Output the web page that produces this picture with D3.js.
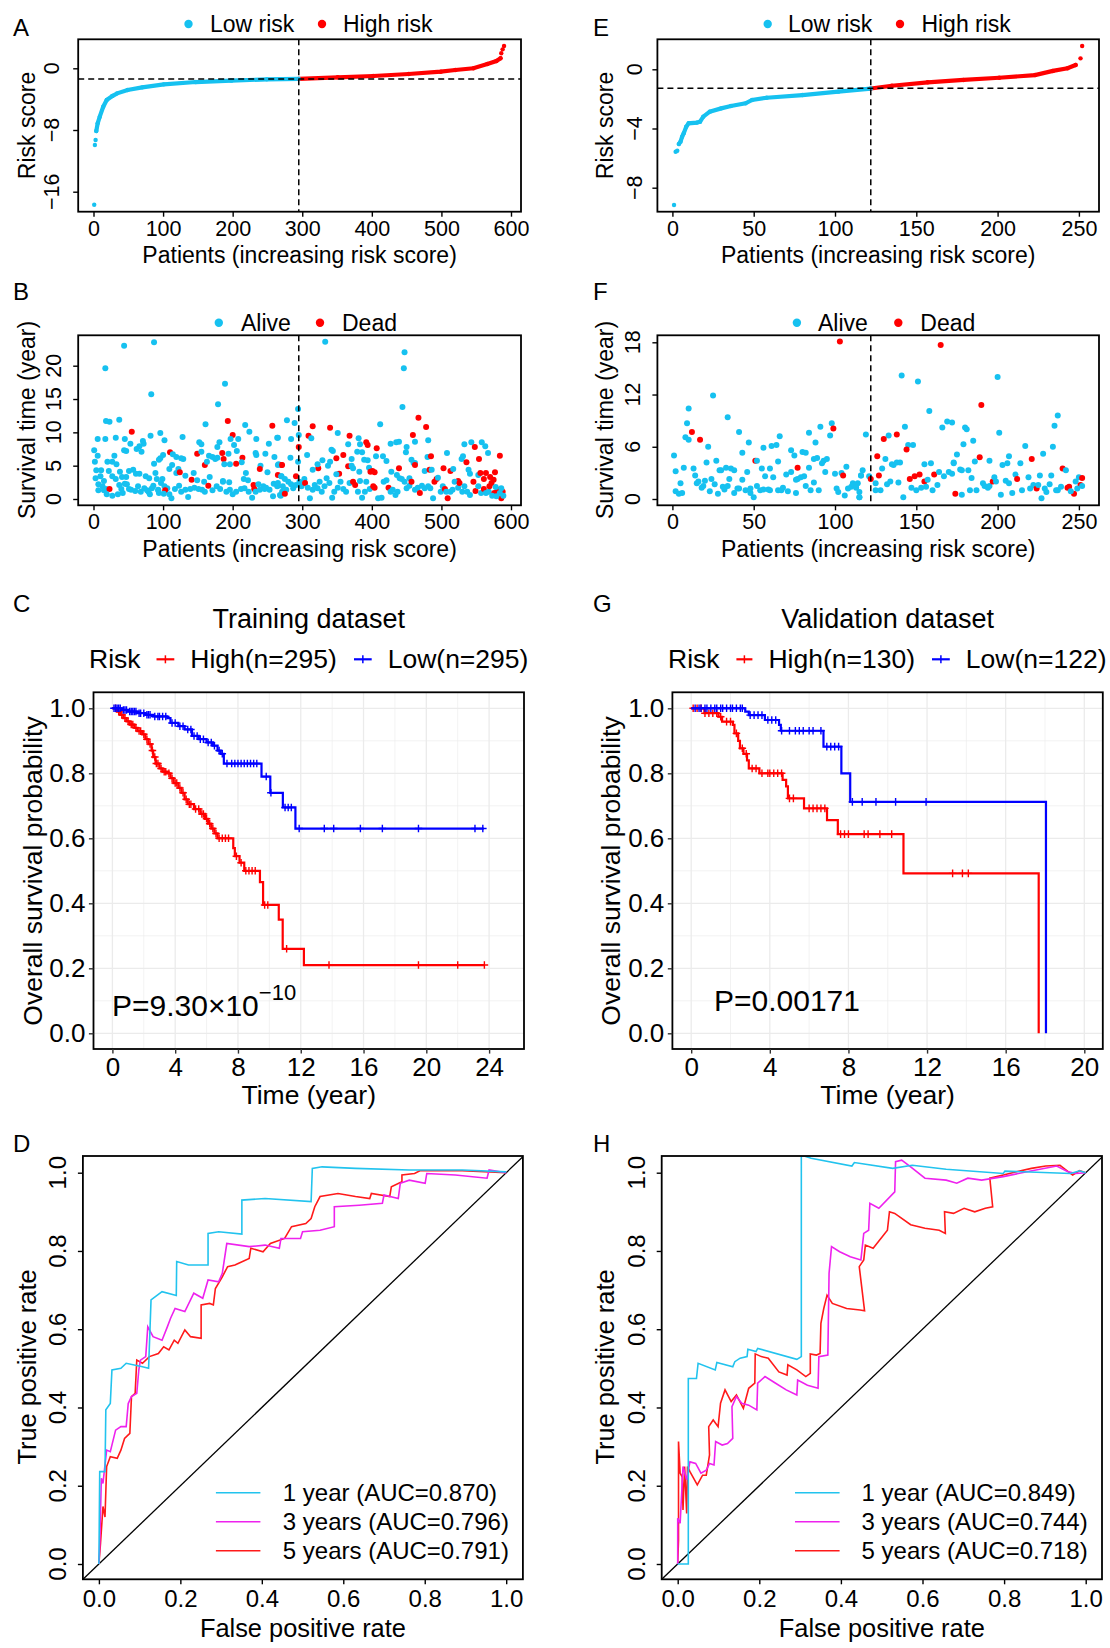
<!DOCTYPE html>
<html>
<head>
<meta charset="utf-8">
<script src="https://cdn.jsdelivr.net/npm/d3@7"></script>
<style>
  body { margin: 0; background: #fff; }
  svg text { font-family: "Liberation Sans", Arial, Helvetica, sans-serif; fill: #000; }
</style>
</head>
<body>
<svg id="fig" width="1110" height="1648"></svg>
<script>
// ---------- data ----------
// risk score curves: [patient rank, risk score]
var trainRisk = [[1,-17.7],[2,-9.95],[3,-9.3],[4,-8.13],[6,-7.14],[9,-6.27],[14,-4.98],[19,-4.11],[27,-3.6],[34,-3.25],[49,-2.81],[70,-2.47],[101,-2.08],[147,-1.78],[198,-1.6],[249,-1.43],[295,-1.37],[351,-1.17],[402,-1.0],[453,-0.74],[499,-0.44],[520,-0.22],[546,0],[566,0.56],[579,0.95],[585,1.3],[586,1.95],[588,2.46],[590,2.89]];
var validRisk = [[1,-9.17],[2,-5.57],[3,-5.5],[4,-5.05],[5,-4.89],[6,-4.55],[7,-4.32],[8.5,-3.88],[10,-3.65],[15,-3.6],[17,-3.54],[19,-3.2],[23,-2.86],[30,-2.64],[36,-2.48],[45,-2.3],[49,-2.07],[58,-1.92],[80,-1.74],[102,-1.51],[122,-1.3],[135,-1.11],[157,-0.88],[179,-0.72],[201,-0.57],[223,-0.39],[234,-0.11],[243,0.07],[248,0.29],[251,0.74],[252,1.57]];
var trainCut = 295, validCut = 122;
var trainThreshold = -1.39, validThreshold = -1.28;

// survival status: [patient rank, survival time (year), dead]
var trainSurv = [[44,23.0,0],[87,23.5,0],[17,19.6,0],[83,15.7,0],[189,17.3,0],[179,14.2,0],[18,11.7,0],[23,11.6,0],[37,11.9,0],[55,10.1,1],[161,11.2,0],[193,11.7,1],[218,11.1,0],[257,11.0,1],[224,10.1,0],[200,9.6,1],[6,9.0,0],[17,9.0,0],[32,9.2,0],[45,9.0,0],[82,9.5,0],[96,9.9,0],[102,8.8,0],[128,9.3,0],[197,9.0,0],[208,9.0,0],[234,9.0,0],[264,9.2,0],[202,8.1,0],[252,8.3,0],[53,8.3,0],[66,7.9,0],[71,8.7,0],[72,8.3,0],[62,7.5,0],[69,7.1,0],[44,7.3,0],[47,7.2,0],[1,7.3,0],[152,8.5,0],[155,8.2,0],[181,8.5,0],[178,7.8,0],[110,7.0,1],[114,6.7,0],[119,6.3,0],[129,6.0,0],[100,6.6,0],[96,6.1,0],[149,6.8,1],[155,7.1,0],[194,6.8,0],[206,7.2,0],[185,6.9,1],[187,6.0,1],[214,6.2,1],[213,5.5,0],[233,6.9,0],[234,6.6,0],[247,6.8,0],[260,6.3,0],[6,6.5,0],[2,5.6,0],[20,5.6,0],[27,5.6,0],[33,5.2,0],[30,6.5,0],[87,5.3,0],[94,5.9,0],[113,5.1,0],[126,6.1,0],[160,5.1,1],[163,5.6,0],[166,6.5,0],[171,6.3,0],[175,6.0,0],[178,6.2,0],[205,5.3,1],[196,5.2,0],[188,5.2,0],[240,5.0,0],[266,5.2,0],[270,5.1,1],[4,4.3,0],[11,4.3,0],[22,4.2,0],[38,4.1,0],[51,4.2,0],[57,4.4,0],[122,4.5,0],[109,4.5,0],[119,3.9,0],[124,4.0,1],[132,3.5,0],[144,3.9,0],[239,4.5,1],[250,4.0,0],[219,3.9,0],[265,3.6,1],[270,3.4,0],[3,3.1,0],[10,3.4,0],[15,2.7,0],[27,3.4,0],[32,3.0,0],[41,3.3,0],[47,3.3,0],[61,3.8,0],[66,3.8,0],[75,3.4,0],[80,3.1,0],[89,3.9,0],[91,3.0,0],[99,3.0,0],[141,2.9,1],[149,2.8,0],[159,2.6,0],[167,3.3,0],[186,2.7,0],[195,2.5,0],[216,3.0,0],[222,2.8,0],[230,2.1,1],[231,1.5,1],[237,2.2,0],[244,1.9,0],[248,1.7,0],[259,2.3,0],[265,2.0,0],[7,2.2,0],[13,1.9,0],[18,1.5,0],[15,1.3,0],[23,1.5,1],[7,1.3,0],[37,2.1,0],[45,2.3,0],[48,2.2,0],[40,1.5,0],[51,1.5,0],[54,1.4,0],[60,1.2,0],[64,1.9,0],[68,1.1,0],[73,1.6,0],[77,1.3,0],[84,1.6,0],[86,2.0,0],[93,1.4,0],[97,2.4,0],[102,1.9,0],[106,1.6,0],[103,1.3,1],[109,0.7,0],[112,0.1,0],[94,0.9,0],[117,1.5,0],[123,2.0,0],[126,1.1,0],[132,1.4,0],[136,0.3,0],[139,1.5,0],[145,1.7,0],[151,1.5,0],[156,1.4,0],[160,1.1,0],[165,2.0,1],[171,1.3,0],[177,1.9,0],[182,1.5,0],[186,2.6,0],[191,1.1,0],[196,1.4,0],[200,0.7,0],[205,1.1,0],[212,1.5,0],[217,1.6,0],[223,1.1,0],[228,0.2,0],[233,1.1,0],[239,1.4,0],[246,1.5,0],[253,1.4,0],[258,0.4,0],[264,1.9,0],[268,0.6,0],[271,1.1,0],[19,0.7,0],[27,0.5,0],[35,0.7,0],[42,0.9,0],[79,1.1,0],[81,0.7,0],[93,1.3,0],[101,0.8,0],
[333,23.6,0],[447,22.0,0],[446,19.6,0],[444,13.8,0],[294,13.5,0],[467,12.2,1],[478,10.8,1],[459,9.6,1],[315,10.9,1],[340,10.7,1],[278,11.8,0],[289,11.4,0],[295,9.6,0],[309,9.5,1],[313,9.1,0],[351,9.9,0],[368,9.5,1],[412,11.2,0],[381,9.1,0],[392,8.5,1],[394,8.1,1],[383,8.2,0],[366,8.2,0],[284,9.0,0],[265,9.2,0],[295,7.8,1],[342,7.4,0],[344,7.2,0],[407,7.6,1],[427,8.3,0],[435,8.5,0],[439,8.6,0],[462,8.6,0],[450,7.8,0],[449,7.0,0],[481,8.8,0],[480,6.3,0],[485,6.4,1],[533,8.2,0],[543,8.5,0],[558,8.5,0],[548,7.8,1],[563,7.9,0],[567,6.9,0],[508,6.9,0],[307,6.6,0],[283,6.2,0],[329,5.8,0],[349,6.1,1],[359,6.6,1],[379,7.1,0],[386,7.0,0],[389,5.9,0],[394,5.8,0],[371,6.0,0],[406,6.4,0],[416,6.4,0],[421,5.7,0],[457,5.9,0],[462,5.4,0],[529,6.0,0],[531,6.4,0],[536,5.5,1],[554,6.0,1],[265,5.1,0],[271,5.1,1],[291,3.4,1],[294,5.6,0],[323,4.6,1],[315,4.4,0],[322,5.2,0],[337,5.0,0],[340,5.6,0],[353,3.8,1],[366,4.9,1],[371,5.0,0],[373,4.6,0],[396,4.7,0],[401,4.2,1],[398,4.1,1],[382,4.1,0],[404,4.0,1],[439,4.6,1],[428,4.1,0],[436,3.6,0],[454,3.1,0],[460,5.4,0],[462,5.1,1],[476,4.2,0],[483,4.4,1],[486,4.4,0],[503,4.6,1],[513,4.2,1],[517,4.5,0],[524,2.7,1],[539,4.4,0],[541,3.8,0],[553,3.6,0],[556,3.9,1],[564,3.9,1],[561,3.0,1],
[270,3.4,0],[275,3.0,0],[280,2.6,0],[265,2.4,0],[272,1.9,0],[277,1.4,0],[269,0.5,0],[275,0.8,1],[284,2.2,0],[287,1.6,0],[291,2.1,0],[296,2.6,0],[299,1.9,0],[303,3.0,0],[304,2.4,1],[308,1.7,0],[311,0.1,0],[315,1.4,0],[318,2.1,0],[322,1.6,0],[325,2.6,0],[328,1.1,0],[332,1.9,0],[335,3.1,0],[339,2.4,0],[343,0.2,0],[346,1.1,0],[349,3.7,0],[351,1.7,0],[355,2.6,0],[359,1.5,0],[363,1.1,0],[368,2.4,0],[373,2.6,1],[376,2.1,1],[380,1.1,0],[383,2.7,0],[386,0.2,0],[390,1.1,0],[392,2.6,0],[397,1.5,0],[402,1.9,1],[404,1.7,1],[409,0.1,0],[414,0.2,0],[417,2.6,0],[421,2.8,0],[424,1.7,1],[427,1.1,0],[430,1.4,0],[434,0.6,0],[437,1.1,0],[440,3.1,0],[443,3.0,0],[447,2.6,0],[450,1.6,0],[454,2.0,0],[457,2.6,1],[462,1.4,0],[466,1.7,0],[469,0.9,1],[472,2.0,0],[476,1.6,0],[481,1.9,0],[484,1.6,0],[488,0.1,0],[490,2.6,1],[493,3.0,1],[495,3.2,0],[499,1.1,0],[502,1.9,0],[505,1.5,1],[507,1.1,0],[509,0.1,1],[513,1.1,0],[516,1.4,0],[519,2.6,0],[524,1.7,0],[526,2.4,1],[530,1.1,0],[533,1.9,0],[537,1.1,0],[541,0.6,0],[546,2.6,1],[549,1.2,1],[553,1.9,0],[557,0.9,0],[561,1.5,1],[564,0.9,0],[568,1.1,0],
[584,6.5,1],[585,1.2,1],[588,1.1,1],[586,0.1,1],[577,4.0,1],[575,2.9,1],[570,3.3,1],[572,2.4,1],[569,1.9,1],[581,1.4,1],[576,0.9,1],[584,0.9,0],[586,1.6,0],[579,0.4,0],[589,0.5,0],[573,0.5,0],[578,1.8,0]];

var validSurv = [[103,18.1,1],[25,11.9,0],[10,10.4,0],[34,9.4,0],[9,8.7,0],[12,7.7,1],[8,7.1,0],[10,6.8,0],[17,6.8,1],[22,6.0,0],[41,7.7,0],[47,6.5,0],[43,5.3,0],[56,5.9,0],[61,6.1,0],[64,6.2,0],[66,7.2,0],[73,5.6,0],[75,5.0,0],[80,5.4,0],[82,5.3,0],[84,7.6,0],[88,6.5,0],[91,8.3,0],[97,7.3,0],[98,8.7,0],[99,8.1,1],[1,5.0,0],[2,3.2,0],[5,1.8,0],[2,0.9,0],[4,0.6,0],[6,0.7,0],[7,3.6,0],[13,3.5,0],[14,2.7,0],[15,1.8,0],[16,2.0,0],[18,1.3,0],[19,1.5,0],[20,2.1,0],[21,4.2,0],[23,0.9,0],[24,2.3,0],[26,1.7,0],[27,4.4,0],[28,0.6,0],[29,3.3,0],[30,3.3,0],[31,1.4,0],[32,1.1,0],[33,3.6,0],[34,1.5,0],[35,2.3,0],[36,3.5,0],[38,3.3,0],[38,0.7,0],[40,1.2,0],[41,1.2,0],[43,2.2,0],[45,1.0,0],[46,3.1,0],[48,0.7,0],[48,1.2,0],[50,0.2,0],[51,4.4,1],[52,4.4,0],[52,1.5,0],[54,1.0,0],[55,3.5,0],[57,2.6,0],[56,1.1,0],[59,1.1,0],[60,3.5,0],[60,1.0,0],[62,2.5,0],[65,4.3,0],[65,1.0,0],[67,1.0,0],[68,1.3,0],[70,2.8,0],[71,0.9,0],[73,3.1,0],[76,0.7,0],[76,2.2,0],[77,2.3,0],[79,2.5,0],[81,2.6,0],[77,3.6,1],[82,1.5,0],[84,3.6,0],[85,1.0,0],[87,1.9,0],[87,4.6,0],[89,4.7,0],[90,1.0,0],[92,4.1,0],[93,4.4,0],[95,4.6,0],[94,3.1,0],[100,2.9,0],[101,1.2,0],[102,0.8,0],[104,3.0,0],[105,2.7,1],[106,0.4,0],[107,3.7,0],[108,1.2,0],[110,1.4,0],[111,1.8,0],[112,1.6,0],[113,1.3,0],[114,1.8,0],[115,0.2,0],[116,2.7,0],
[165,17.7,1],[141,14.2,0],[151,13.5,0],[200,14.0,0],[190,10.8,1],[158,10.1,0],[237,9.6,0],[235,8.4,0],[169,8.9,0],[172,8.8,0],[166,8.2,0],[180,8.2,0],[181,8.0,0],[201,7.6,0],[143,8.3,0],[138,7.4,1],[133,7.3,0],[130,6.9,1],[119,7.4,0],[185,6.7,0],[179,6.3,0],[217,6.1,0],[234,6.0,0],[145,6.2,0],[148,6.2,0],[144,5.7,1],[175,5.1,0],[207,4.9,0],[228,5.2,0],[221,4.6,1],[189,4.8,1],[186,4.3,0],[195,4.4,0],[173,4.2,0],[159,4.1,0],[155,4.0,0],[131,4.6,0],[126,4.9,1],[135,4.0,0],[136,3.9,0],[138,4.2,0],[140,4.2,0],[129,3.5,0],[117,3.3,0],[116,2.7,0],[113,1.6,0],[115,0.8,0],[115,0.2,0],[121,2.6,0],[122,2.3,1],[125,1.8,0],[125,1.0,0],[128,1.0,0],[127,2.7,1],[132,1.7,0],[134,2.0,0],[139,1.9,0],[142,0.2,0],[146,2.3,1],[149,2.6,1],[152,2.8,1],[147,1.3,0],[150,1.0,0],[153,1.3,0],[155,2.0,1],[156,1.4,0],[157,2.2,0],[161,2.8,1],[160,1.0,0],[163,1.6,0],[164,3.1,0],[167,2.6,0],[170,3.1,0],[172,2.9,0],[173,4.1,0],[174,0.6,1],[177,3.4,0],[178,3.3,0],[178,0.5,0],[182,3.3,0],[183,1.0,0],[184,2.4,0],[187,1.0,0],[191,1.8,0],[192,1.5,0],[194,1.3,0],[195,1.5,0],[197,2.0,1],[198,2.5,0],[199,2.0,0],[202,0.5,0],[203,3.9,0],[205,2.1,0],[206,4.1,0],[207,1.8,0],[209,0.7,0],[211,2.8,0],[212,2.3,1],[214,4.1,0],[215,1.0,0],[219,2.5,0],[220,1.2,0],[222,1.6,0],[224,1.2,1],[225,1.6,0],[226,2.7,0],[227,0.1,0],[229,1.2,0],[230,0.8,0],[232,1.7,0],[233,2.7,0],[236,1.0,0],[237,1.0,0],[239,1.4,0],[240,3.5,1],[242,3.3,0],[243,1.3,1],[244,1.4,1],[247,0.6,1],[248,2.0,0],[250,2.5,0],[251,1.6,1],[252,2.4,1],[252,1.5,0],[245,0.9,0],[249,1.2,0]];

// Kaplan-Meier steps: [time (year), survival after the drop]
var trainHighSteps = [[0,1],[0.3,0.99],[0.5,0.98],[0.7,0.97],[0.9,0.96],[1.1,0.95],[1.4,0.94],[1.6,0.93],[1.9,0.92],[2.1,0.905],[2.3,0.89],[2.5,0.87],[2.6,0.85],[2.75,0.83],[3.0,0.815],[3.2,0.805],[3.5,0.8],[3.7,0.785],[3.9,0.77],[4.2,0.755],[4.4,0.74],[4.6,0.72],[4.8,0.705],[5.2,0.69],[5.6,0.675],[5.9,0.66],[6.1,0.645],[6.3,0.63],[6.5,0.615],[6.7,0.6],[7.7,0.57],[7.8,0.545],[8.1,0.525],[8.4,0.5],[9.4,0.465],[9.6,0.395],[10.6,0.35],[10.85,0.26],[12.2,0.21]];
var trainLowSteps = [[0,1],[0.6,0.995],[1.0,0.99],[1.6,0.985],[2.1,0.98],[2.6,0.975],[3.5,0.97],[3.7,0.955],[4.2,0.945],[4.6,0.935],[5.07,0.915],[5.5,0.905],[6.0,0.895],[6.4,0.885],[6.7,0.87],[6.9,0.86],[7.1,0.83],[9.5,0.79],[10.06,0.74],[10.86,0.695],[11.66,0.63]];
var trainHighEnd = 23.7, trainLowEnd = 23.66;
var trainHighCens = [0.2,0.4,0.6,0.8,1.0,1.2,1.3,1.5,1.7,1.8,2.0,2.2,2.4,2.55,2.7,2.8,2.9,3.1,3.3,3.4,3.6,3.8,4.0,4.1,4.3,4.5,4.7,4.9,5.0,5.3,5.5,5.7,5.8,6.0,6.2,6.4,6.6,6.8,7.0,7.2,7.4,7.9,8.2,8.5,8.7,8.9,9.1,9.7,9.9,11.1,13.8,19.5,22.0,23.7];
var trainLowCens = [0.1,0.2,0.3,0.4,0.5,0.7,0.8,0.9,1.1,1.2,1.3,1.4,1.5,1.7,1.8,2.0,2.2,2.3,2.4,2.7,2.9,3.0,3.2,3.4,3.8,4.0,4.3,4.5,4.8,5.0,5.2,5.4,5.6,5.8,6.1,6.3,6.5,6.8,7.0,7.3,7.6,7.8,8.0,8.2,8.4,8.6,8.8,9.0,9.2,9.8,10.1,11.0,11.2,11.4,11.9,13.5,14.1,15.8,17.2,19.5,23.1,23.6];

var validHighSteps = [[0,1],[0.67,0.985],[1.39,0.974],[1.57,0.959],[2.12,0.949],[2.2,0.923],[2.39,0.9],[2.48,0.877],[2.66,0.86],[2.84,0.84],[2.93,0.815],[3.47,0.8],[4.65,0.78],[4.83,0.76],[4.92,0.723],[5.74,0.692],[6.91,0.656],[7.46,0.613],[10.8,0.492],[17.68,0]];
var validLowSteps = [[0,1],[2.75,0.99],[2.93,0.979],[3.75,0.964],[4.47,0.949],[4.56,0.931],[6.73,0.882],[7.64,0.8],[8.09,0.712],[18.05,0]];
var validHighEnd = 17.68, validLowEnd = 18.05;
var validHighCens = [0.1,0.3,0.5,0.7,0.9,1.1,1.3,1.5,1.8,2.0,2.3,2.6,2.8,3.1,3.3,3.6,3.9,4.0,4.2,4.4,4.6,5.0,5.2,6.0,6.2,6.4,6.6,6.8,7.6,7.8,8.0,8.8,9.0,9.6,10.2,13.3,13.8,14.1];
var validLowCens = [0.2,0.4,0.5,0.7,0.8,1.0,1.2,1.3,1.5,1.6,1.8,2.0,2.1,2.3,2.5,2.6,3.0,3.2,3.4,3.6,3.9,4.1,4.3,4.6,5.0,5.3,5.5,5.7,6.0,6.2,6.6,6.9,7.1,7.3,7.5,8.2,8.7,9.4,10.4,11.95];

// time-dependent ROC curves: [false positive rate, true positive rate]
var rocTrain1 = [[0,0],[0.002,0.236],[0.015,0.236],[0.017,0.394],[0.028,0.41],[0.032,0.496],[0.054,0.5],[0.067,0.513],[0.107,0.504],[0.122,0.5],[0.128,0.675],[0.155,0.696],[0.19,0.686],[0.191,0.773],[0.22,0.764],[0.268,0.764],[0.268,0.845],[0.294,0.849],[0.351,0.843],[0.351,0.93],[0.408,0.934],[0.521,0.926],[0.524,1.011],[0.548,1.015],[0.63,1.011],[0.762,1.007],[0.892,1.007],[1,1.002]];
var rocTrain3 = [[0,0],[0.002,0.044],[0.006,0.219],[0.01,0.206],[0.019,0.291],[0.028,0.287],[0.041,0.342],[0.054,0.351],[0.067,0.351],[0.072,0.41],[0.08,0.428],[0.093,0.436],[0.098,0.496],[0.102,0.521],[0.115,0.53],[0.12,0.606],[0.133,0.581],[0.155,0.572],[0.168,0.606],[0.176,0.628],[0.187,0.653],[0.211,0.645],[0.233,0.692],[0.255,0.679],[0.268,0.726],[0.294,0.721],[0.303,0.743],[0.314,0.819],[0.369,0.811],[0.408,0.815],[0.443,0.807],[0.447,0.832],[0.495,0.832],[0.5,0.849],[0.543,0.853],[0.578,0.862],[0.578,0.913],[0.639,0.917],[0.696,0.922],[0.7,0.943],[0.735,0.934],[0.74,0.973],[0.762,0.981],[0.801,0.973],[0.805,0.998],[0.875,0.994],[0.953,0.986],[0.958,1.007],[1,1]];
var rocTrain5 = [[0,0],[0.004,0.053],[0.01,0.147],[0.015,0.12],[0.019,0.249],[0.028,0.274],[0.045,0.27],[0.054,0.291],[0.063,0.321],[0.076,0.334],[0.08,0.428],[0.089,0.436],[0.093,0.521],[0.107,0.513],[0.124,0.53],[0.146,0.538],[0.159,0.555],[0.172,0.547],[0.185,0.572],[0.194,0.564],[0.211,0.598],[0.225,0.581],[0.251,0.577],[0.251,0.662],[0.272,0.666],[0.281,0.662],[0.286,0.704],[0.303,0.734],[0.316,0.76],[0.334,0.764],[0.342,0.768],[0.369,0.781],[0.373,0.807],[0.403,0.798],[0.421,0.819],[0.456,0.832],[0.473,0.862],[0.508,0.87],[0.521,0.883],[0.53,0.913],[0.543,0.939],[0.587,0.947],[0.63,0.939],[0.665,0.934],[0.669,0.947],[0.714,0.939],[0.718,0.964],[0.744,0.977],[0.744,0.994],[0.775,0.998],[0.788,1.005],[0.892,1.005],[1,1]];
var rocValid1 = [[0,0],[0.026,0],[0.026,0.474],[0.046,0.474],[0.05,0.513],[0.092,0.496],[0.096,0.515],[0.135,0.504],[0.14,0.517],[0.153,0.526],[0.17,0.53],[0.172,0.549],[0.192,0.543],[0.196,0.551],[0.292,0.523],[0.303,0.53],[0.303,1.045],[0.327,1.037],[0.427,1.017],[0.433,1.026],[0.527,1.011],[0.575,1.019],[0.658,1.009],[0.798,0.998],[0.802,1.004],[0.963,0.998],[0.985,1.005],[1,1]];
var rocValid3 = [[0,0],[0,0.117],[0.006,0.104],[0.013,0.249],[0.022,0.215],[0.03,0.261],[0.044,0.257],[0.057,0.232],[0.07,0.24],[0.078,0.257],[0.089,0.253],[0.093,0.313],[0.109,0.304],[0.122,0.308],[0.135,0.321],[0.133,0.402],[0.144,0.428],[0.157,0.411],[0.174,0.406],[0.194,0.394],[0.196,0.462],[0.214,0.479],[0.24,0.462],[0.266,0.445],[0.292,0.432],[0.294,0.47],[0.318,0.457],[0.344,0.449],[0.346,0.53],[0.368,0.534],[0.371,0.743],[0.377,0.811],[0.397,0.798],[0.423,0.785],[0.449,0.777],[0.456,0.845],[0.468,0.853],[0.471,0.922],[0.493,0.909],[0.532,0.951],[0.534,1.028],[0.549,1.032],[0.571,1.015],[0.606,0.986],[0.658,0.981],[0.684,0.973],[0.711,0.986],[0.745,0.981],[0.798,0.99],[0.859,1.003],[0.929,1.017],[0.955,1.003],[0.976,0.998],[1,1]];
var rocValid5 = [[0,0],[0.002,0.061],[0.002,0.313],[0.006,0.232],[0.011,0.223],[0.013,0.138],[0.017,0.249],[0.022,0.129],[0.024,0.249],[0.03,0.236],[0.048,0.202],[0.061,0.227],[0.07,0.227],[0.078,0.279],[0.076,0.351],[0.087,0.368],[0.099,0.351],[0.105,0.411],[0.116,0.445],[0.131,0.415],[0.144,0.432],[0.161,0.398],[0.174,0.449],[0.189,0.462],[0.19,0.537],[0.205,0.53],[0.222,0.526],[0.248,0.491],[0.268,0.483],[0.27,0.509],[0.292,0.496],[0.314,0.479],[0.325,0.487],[0.325,0.537],[0.34,0.534],[0.349,0.538],[0.351,0.615],[0.358,0.653],[0.366,0.687],[0.379,0.666],[0.414,0.653],[0.447,0.649],[0.458,0.647],[0.445,0.76],[0.456,0.777],[0.46,0.815],[0.479,0.807],[0.514,0.853],[0.519,0.9],[0.532,0.896],[0.571,0.867],[0.606,0.858],[0.641,0.853],[0.656,0.845],[0.654,0.9],[0.676,0.896],[0.702,0.909],[0.728,0.9],[0.754,0.909],[0.772,0.913],[0.765,0.986],[0.798,0.994],[0.833,1.003],[0.867,1.011],[0.902,1.017],[0.937,1.019],[0.968,0.994],[0.985,1.005],[1,1]];

var rocTrainLabels = ["1 year (AUC=0.870)", "3 years (AUC=0.796)", "5 years (AUC=0.791)"];
var rocValidLabels = ["1 year (AUC=0.849)", "3 years (AUC=0.744)", "5 years (AUC=0.718)"];
var rocColors = ["#22C3EE", "#EE22EE", "#FF1A1A"];

var riskLegend = ["Low risk", "High risk"];
var statusLegend = ["Alive", "Dead"];
var trainTicksX = [0,100,200,300,400,500,600];
var validTicksX = [0,50,100,150,200,250];

var LOWC = "#16C1F0", HIGHC = "#FF0000";
var svg = d3.select("#fig");
var FONT = '"Liberation Sans", Arial, Helvetica, sans-serif';

// ---------- helpers ----------
function letter(x, y, s) {
  svg.append("text").attr("x", x).attr("y", y).style("font-size", "24px").text(s);
}
function box(b, w) {
  svg.append("rect").attr("x", b.l).attr("y", b.t).attr("width", b.r - b.l).attr("height", b.b - b.t)
    .attr("fill", "none").attr("stroke", "#000").attr("stroke-width", w || 1.8);
}
function styleAxis(g, fs, col) {
  g.select(".domain").remove();
  g.selectAll("line").attr("stroke", col || "#000").attr("stroke-width", 1.4);
  g.selectAll("text").style("font-size", fs + "px").style("font-family", FONT).attr("fill", "#000");
}
function rXAxis(b, x, ticks, fmt, fs, pad) {
  var g = svg.append("g").attr("transform", "translate(0," + b.b + ")")
    .call(d3.axisBottom(x).tickValues(ticks).tickSize(5).tickPadding(pad).tickFormat(fmt));
  styleAxis(g, fs);
}
function rYAxis(b, y, ticks, fmt, fs, cx) {
  var g = svg.append("g").attr("transform", "translate(" + b.l + ",0)")
    .call(d3.axisLeft(y).tickValues(ticks).tickSize(5).tickFormat(""));
  styleAxis(g, fs);
  svg.append("g").selectAll("text").data(ticks).join("text")
    .attr("transform", function(d) { return "translate(" + cx + "," + y(d) + ") rotate(-90)"; })
    .attr("text-anchor", "middle").attr("dy", "0.36em")
    .style("font-size", fs + "px").text(fmt);
}
function yTitle(cx, cy, fs, s) {
  svg.append("text").attr("transform", "translate(" + cx + "," + cy + ") rotate(-90)")
    .attr("text-anchor", "middle").attr("dy", "0.36em").style("font-size", fs + "px").text(s);
}
function xTitle(cx, y, fs, s) {
  svg.append("text").attr("x", cx).attr("y", y).attr("text-anchor", "middle").style("font-size", fs + "px").text(s);
}
function dotLegend(y, items) {
  items.forEach(function(it) {
    svg.append("circle").attr("cx", it.dx).attr("cy", y).attr("r", 4.2).attr("fill", it.c);
    svg.append("text").attr("x", it.tx).attr("y", y).attr("dy", "0.36em").style("font-size", "23px").text(it.s);
  });
}
function clip(id, b) {
  svg.append("clipPath").attr("id", id).append("rect")
    .attr("x", b.l).attr("y", b.t).attr("width", b.r - b.l).attr("height", b.b - b.t);
}

// ---------- risk score panels (A, E) ----------
function riskPanel(o) {
  var x = d3.scaleLinear().domain(o.xd).range(o.xr);
  var y = d3.scaleLinear().domain(o.yd).range(o.yr);
  var line = d3.line().x(function(d) { return x(d[0]); }).y(function(d) { return y(d[1]); });
  var lowPart = o.data.filter(function(d) { return d[0] >= o.lineFrom && d[0] <= o.cut; });
  var highPart = o.data.filter(function(d) { return d[0] >= o.cut && d[0] <= o.lineTo; });
  svg.append("path").attr("d", line(lowPart)).attr("fill", "none").attr("stroke", LOWC).attr("stroke-width", 4.2).attr("stroke-linecap", "round");
  svg.append("path").attr("d", line(highPart)).attr("fill", "none").attr("stroke", HIGHC).attr("stroke-width", 4.2).attr("stroke-linecap", "round");
  svg.append("g").selectAll("circle").data(o.data).join("circle")
    .attr("cx", function(d) { return x(d[0]); }).attr("cy", function(d) { return y(d[1]); })
    .attr("r", 2.2).attr("fill", function(d) { return d[0] <= o.cut ? LOWC : HIGHC; });
  svg.append("line").attr("x1", o.box.l).attr("x2", o.box.r).attr("y1", y(o.thr)).attr("y2", y(o.thr))
    .attr("stroke", "#000").attr("stroke-width", 1.5).attr("stroke-dasharray", "6,4");
  svg.append("line").attr("x1", x(o.cut)).attr("x2", x(o.cut)).attr("y1", o.box.t).attr("y2", o.box.b)
    .attr("stroke", "#000").attr("stroke-width", 1.5).attr("stroke-dasharray", "6,4");
  box(o.box);
  rXAxis(o.box, x, o.xticks, d3.format("d"), 21.5, 3.6);
  rYAxis(o.box, y, o.yticks, d3.format("d"), 21.5, o.ytx);
  yTitle(o.ytt, (o.box.t + o.box.b) / 2, 23, "Risk score");
  xTitle((o.box.l + o.box.r) / 2, 263, 23, "Patients (increasing risk score)");
}

riskPanel({ data: trainRisk, box: {l: 78.2, r: 521, t: 39.3, b: 211.7},
  xd: [0, 600], xr: [93.5, 511], yd: [-16, 0], yr: [191.7, 68.3],
  cut: trainCut, thr: trainThreshold, lineFrom: 4, lineTo: 585,
  xticks: trainTicksX, yticks: [-16, -8, 0], ytx: 51.6, ytt: 26.7 });
riskPanel({ data: validRisk, box: {l: 657.4, r: 1099, t: 39.3, b: 211.7},
  xd: [0, 250], xr: [672.4, 1078.9], yd: [-8, 0], yr: [187.7, 69.3],
  cut: validCut, thr: validThreshold, lineFrom: 4, lineTo: 250,
  xticks: validTicksX, yticks: [-8, -4, 0], ytx: 634, ytt: 604.8 });
dotLegend(24, [{dx: 188.5, tx: 210, c: LOWC, s: riskLegend[0]}, {dx: 322, tx: 343, c: HIGHC, s: riskLegend[1]}]);
dotLegend(24, [{dx: 767.7, tx: 788, c: LOWC, s: riskLegend[0]}, {dx: 900, tx: 921.4, c: HIGHC, s: riskLegend[1]}]);
letter(13, 36, "A");
letter(593, 36, "E");

// ---------- survival status panels (B, F) ----------
function survPanel(o) {
  var x = d3.scaleLinear().domain(o.xd).range(o.xr);
  var y = d3.scaleLinear().domain(o.yd).range(o.yr);
  svg.append("g").selectAll("circle").data(o.data).join("circle")
    .attr("cx", function(d) { return x(d[0]); }).attr("cy", function(d) { return y(d[1]); })
    .attr("r", 3).attr("fill", function(d) { return d[2] ? HIGHC : LOWC; });
  svg.append("line").attr("x1", x(o.cut)).attr("x2", x(o.cut)).attr("y1", o.box.t).attr("y2", o.box.b)
    .attr("stroke", "#000").attr("stroke-width", 1.5).attr("stroke-dasharray", "6,4");
  box(o.box);
  rXAxis(o.box, x, o.xticks, d3.format("d"), 21.5, 3.7);
  rYAxis(o.box, y, o.yticks, d3.format("d"), 21.5, o.ytx);
  yTitle(o.ytt, 420, 23, "Survival time (year)");
  xTitle((o.box.l + o.box.r) / 2, 556.5, 23, "Patients (increasing risk score)");
}
survPanel({ data: trainSurv, box: {l: 78.2, r: 521, t: 335.3, b: 505.3},
  xd: [0, 600], xr: [93.5, 511], yd: [0, 20], yr: [499, 365.7], cut: trainCut,
  xticks: trainTicksX, yticks: [0, 5, 10, 15, 20], ytx: 53.4, ytt: 26.7 });
survPanel({ data: validSurv, box: {l: 657.4, r: 1099, t: 335.3, b: 505.3},
  xd: [0, 250], xr: [672.4, 1078.9], yd: [0, 18], yr: [499, 342.3], cut: validCut,
  xticks: validTicksX, yticks: [0, 6, 12, 18], ytx: 632.5, ytt: 604.8 });
dotLegend(322.7, [{dx: 218.8, tx: 241, c: LOWC, s: statusLegend[0]}, {dx: 320, tx: 342, c: HIGHC, s: statusLegend[1]}]);
dotLegend(322.7, [{dx: 796.9, tx: 818, c: LOWC, s: statusLegend[0]}, {dx: 898.3, tx: 920.3, c: HIGHC, s: statusLegend[1]}]);
letter(13, 300, "B");
letter(593, 300, "F");

// ---------- Kaplan-Meier panels (C, G) ----------
function kmPanel(o) {
  var b = o.box;
  var x = d3.scaleLinear().domain(o.xd).range(o.xr);
  var y = d3.scaleLinear().domain([0, 1]).range([1033.3, 708.3]);
  var g = svg.append("g");
  o.xminor.forEach(function(t) {
    g.append("line").attr("x1", x(t)).attr("x2", x(t)).attr("y1", b.t).attr("y2", b.b).attr("stroke", "#EDEDED").attr("stroke-width", 0.7);
  });
  [0.1, 0.3, 0.5, 0.7, 0.9].forEach(function(s) {
    g.append("line").attr("x1", b.l).attr("x2", b.r).attr("y1", y(s)).attr("y2", y(s)).attr("stroke", "#EDEDED").attr("stroke-width", 0.7);
  });
  o.xticks.forEach(function(t) {
    g.append("line").attr("x1", x(t)).attr("x2", x(t)).attr("y1", b.t).attr("y2", b.b).attr("stroke", "#EBEBEB").attr("stroke-width", 1.3);
  });
  [0, 0.2, 0.4, 0.6, 0.8, 1].forEach(function(s) {
    g.append("line").attr("x1", b.l).attr("x2", b.r).attr("y1", y(s)).attr("y2", y(s)).attr("stroke", "#EBEBEB").attr("stroke-width", 1.3);
  });
  var line = d3.line().curve(d3.curveStepAfter).x(function(d) { return x(d[0]); }).y(function(d) { return y(d[1]); });
  function sAt(steps, t) { var s = steps[0][1]; steps.forEach(function(d) { if (d[0] <= t) s = d[1]; }); return s; }
  o.groups.forEach(function(gr) {
    var pts = gr.steps.concat([[gr.end, gr.steps[gr.steps.length - 1][1]]]);
    svg.append("path").attr("d", line(pts)).attr("fill", "none").attr("stroke", gr.c).attr("stroke-width", 2.2);
    svg.append("g").selectAll("path").data(gr.cens).join("path")
      .attr("d", function(t) { var px = x(t), py = y(sAt(gr.steps, t)); return "M" + (px - 3.8) + "," + py + "H" + (px + 3.8) + "M" + px + "," + (py - 3.8) + "V" + (py + 3.8); })
      .attr("stroke", gr.c).attr("stroke-width", 1.4).attr("fill", "none");
  });
  box(b, 1.8);
  var gx = svg.append("g").attr("transform", "translate(0," + b.b + ")")
    .call(d3.axisBottom(x).tickValues(o.xticks).tickSize(4.6).tickPadding(4.2).tickFormat(d3.format("d")));
  styleAxis(gx, 26, "#333");
  var gy = svg.append("g").attr("transform", "translate(" + b.l + ",0)")
    .call(d3.axisLeft(y).tickValues([0, 0.2, 0.4, 0.6, 0.8, 1]).tickSize(4.6).tickPadding(3.5).tickFormat(d3.format(".1f")));
  styleAxis(gy, 26, "#333");
  yTitle(o.ytt, 871, 26.5, "Overall survival probability");
  xTitle((b.l + b.r) / 2, 1104, 26.5, "Time (year)");
  xTitle((b.l + b.r) / 2, 628, 27, o.title);
  // legend
  var ly = 668.3, ky = 659.3;
  svg.append("text").attr("x", o.leg.risk).attr("y", ly).style("font-size", "26.5px").text("Risk");
  o.groups.forEach(function(gr, i) {
    var k = o.leg.keys[i];
    svg.append("line").attr("x1", k[0]).attr("x2", k[1]).attr("y1", ky).attr("y2", ky).attr("stroke", gr.c).attr("stroke-width", 2.2);
    svg.append("line").attr("x1", (k[0] + k[1]) / 2).attr("x2", (k[0] + k[1]) / 2).attr("y1", ky - 4).attr("y2", ky + 4).attr("stroke", gr.c).attr("stroke-width", 1.5);
    svg.append("text").attr("x", o.leg.text[i]).attr("y", ly).style("font-size", "26.5px").text(gr.label);
  });
  var p = svg.append("text").attr("x", o.px).attr("y", o.py).style("font-size", "30px").text(o.p);
  if (o.pexp) p.append("tspan").attr("dy", -16).style("font-size", "22px").text(o.pexp);
}

kmPanel({ box: {l: 93.5, r: 524, t: 692.3, b: 1049}, xd: [0, 24], xr: [112.4, 489.1],
  xticks: [0, 4, 8, 12, 16, 20, 24], xminor: [2, 6, 10, 14, 18, 22], ytt: 32, title: "Training dataset",
  groups: [{steps: trainHighSteps, end: trainHighEnd, cens: trainHighCens, c: "#FF0000", label: "High(n=295)"},
           {steps: trainLowSteps, end: trainLowEnd, cens: trainLowCens, c: "#0000FF", label: "Low(n=295)"}],
  leg: {risk: 89, keys: [[156.5, 174.3], [354, 371.7]], text: [190.3, 387.7]},
  px: 112, py: 1016, p: "P=9.30\u00d710", pexp: "\u221210" });
kmPanel({ box: {l: 672.4, r: 1102.8, t: 692.3, b: 1049}, xd: [0, 20], xr: [691.2, 1084.3],
  xticks: [0, 4, 8, 12, 16, 20], xminor: [2, 6, 10, 14, 18], ytt: 610, title: "Validation dataset",
  groups: [{steps: validHighSteps, end: validHighEnd, cens: validHighCens, c: "#FF0000", label: "High(n=130)"},
           {steps: validLowSteps, end: validLowEnd, cens: validLowCens, c: "#0000FF", label: "Low(n=122)"}],
  leg: {risk: 668, keys: [[736.4, 752.4], [932, 949.8]], text: [768.4, 965.8]},
  px: 714, py: 1011, p: "P=0.00171", pexp: null });
letter(13, 612, "C");
letter(593, 612, "G");

// ---------- ROC panels (D, H) ----------
function rocPanel(o) {
  var b = o.box;
  var x = d3.scaleLinear().domain([0, 1]).range(o.xr);
  var y = d3.scaleLinear().domain([0, 1]).range([1564, 1172.7]);
  clip(o.id, b);
  var g = svg.append("g").attr("clip-path", "url(#" + o.id + ")");
  var line = d3.line().x(function(d) { return x(d[0]); }).y(function(d) { return y(d[1]); });
  g.append("path").attr("d", line([[-0.1, -0.1], [1.1, 1.1]])).attr("stroke", "#000").attr("stroke-width", 1.3);
  o.curves.slice().reverse().forEach(function(c, i) {
    var k = o.curves.length - 1 - i;
    g.append("path").attr("d", line(c)).attr("fill", "none").attr("stroke", rocColors[k]).attr("stroke-width", 1.6);
  });
  box(b);
  rXAxis(b, x, [0, 0.2, 0.4, 0.6, 0.8, 1], d3.format(".1f"), 24, 5.5);
  rYAxis(b, y, [0, 0.2, 0.4, 0.6, 0.8, 1], d3.format(".1f"), 24, o.ytx);
  yTitle(o.ytt, 1367, 25.4, "True positive rate");
  xTitle((b.l + b.r) / 2, 1637, 25.4, "False positive rate");
  [1492.7, 1521.7, 1550.7].forEach(function(ry, i) {
    svg.append("line").attr("x1", o.lx[0]).attr("x2", o.lx[1]).attr("y1", ry).attr("y2", ry).attr("stroke", rocColors[i]).attr("stroke-width", 1.6);
    svg.append("text").attr("x", o.tx).attr("y", ry).attr("dy", "0.36em").style("font-size", "24px").text(o.labels[i]);
  });
}
rocPanel({ id: "clipD", box: {l: 82.9, r: 522.9, t: 1156, b: 1579.3}, xr: [98.9, 506.2],
  curves: [rocTrain1, rocTrain3, rocTrain5], labels: rocTrainLabels, lx: [215.9, 260.4], tx: 282.8, ytx: 56.9, ytt: 26.7 });
rocPanel({ id: "clipH", box: {l: 661.7, r: 1102, t: 1156, b: 1579.3}, xr: [677.7, 1085.7],
  curves: [rocValid1, rocValid3, rocValid5], labels: rocValidLabels, lx: [795, 839.6], tx: 861.6, ytx: 636.8, ytt: 604.8 });
letter(13, 1152, "D");
letter(593, 1152, "H");
</script>
</body>
</html>
